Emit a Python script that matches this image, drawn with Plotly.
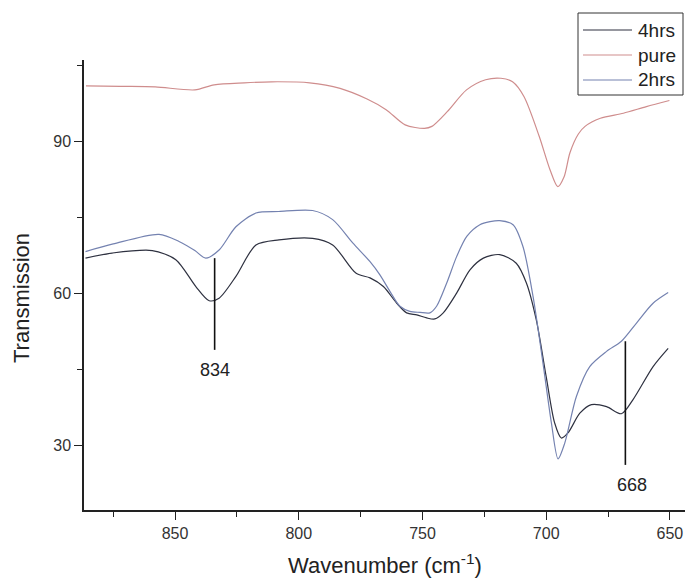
import plotly.graph_objects as go

# Wavenumber grid (cm^-1) and transmission traces for each sample
wn_pure = [886.0, 872.0, 858.0, 842.0, 834.2, 822.0, 811.0, 795.6, 783.3, 772.4,
           764.7, 757.0, 749.2, 746.2, 740.0, 732.2, 724.5, 718.3, 713.6, 709.0,
           702.8, 698.5, 695.3, 692.8, 690.4, 687.0, 684.3, 678.1, 668.8, 659.5,
           650.2]
t_pure = [101.0, 100.9, 100.8, 100.2, 101.2, 101.6, 101.8, 101.6, 100.5, 98.4,
          96.3, 93.3, 92.6, 93.0, 95.9, 100.2, 102.2, 102.5, 101.8, 98.9,
          91.0, 84.5, 81.1, 83.0, 87.8, 91.5, 93.0, 94.6, 95.6, 96.9,
          98.1]

wn_4h = [886.2, 875.4, 859.2, 849.7, 841.6, 836.2, 832.2, 825.4, 817.3, 808.0,
         794.4, 786.3, 776.8, 771.2, 765.8, 760.4, 756.4, 752.3, 748.3, 745.0,
         741.6, 736.2, 730.8, 725.4, 718.8, 712.1, 708.0, 704.0, 700.0, 696.6,
         693.9, 691.2, 686.4, 681.7, 675.6, 669.6, 664.9, 656.8, 650.7]
t_4h = [67.0, 68.0, 68.5, 66.7, 61.4, 58.6, 59.1, 63.4, 69.6, 70.6,
        70.9, 69.6, 64.0, 63.1, 61.4, 58.1, 56.2, 55.8, 55.2, 55.0,
        56.2, 60.1, 64.7, 67.0, 67.7, 66.0, 62.1, 54.8, 43.6, 34.5,
        31.5, 32.5, 36.4, 38.1, 37.7, 36.3, 39.1, 45.6, 49.2]

wn_2h = [886.2, 875.0, 856.5, 848.4, 842.0, 837.6, 832.2, 825.4, 817.3, 808.0,
         794.4, 786.3, 778.2, 771.2, 767.2, 763.1, 759.1, 755.1, 751.0, 747.0,
         744.3, 740.2, 736.2, 732.1, 726.8, 722.7, 718.8, 713.4, 709.4, 705.3,
         701.3, 697.9, 695.2, 692.5, 687.8, 682.4, 675.6, 669.6, 663.5, 656.8,
         650.7]
t_2h = [68.3, 69.8, 71.7, 70.3, 68.5, 67.0, 68.6, 73.2, 75.9, 76.2,
        76.4, 74.6, 70.0, 66.3, 63.7, 60.4, 57.5, 56.5, 56.3, 56.2,
        57.5, 62.1, 67.3, 71.3, 73.6, 74.2, 74.4, 73.6, 69.3, 59.4,
        46.3, 34.5, 27.4, 30.5, 39.7, 45.6, 48.6, 50.6, 54.2, 58.1,
        60.2]

# Marked peaks: position, top and bottom of the marker line, label height
peak_pos = [834, 668]
peak_top = [67.0, 50.6]
peak_bottom = [48.9, 26.2]
peak_label_y = [45.0, 22.3]
peak_label_shift = [0, 7]

FONT = "Liberation Sans, Arial, sans-serif"

# plot area in pixels (left, right, top, bottom) for paper-coordinate helpers
L, R, T, B = 84, 685, 60, 510


def px_x(px):
    return (px - L) / (R - L)


def px_y(py):
    return (B - py) / (B - T)


fig = go.Figure()
series = [
    ("4hrs", wn_4h, t_4h, "#2e3140"),
    ("pure", wn_pure, t_pure, "#cf8d8d"),
    ("2hrs", wn_2h, t_2h, "#7482b0"),
]
for name, xs, ys, color in series:
    fig.add_trace(go.Scatter(
        x=xs, y=ys, name=name, mode="lines", showlegend=False,
        line=dict(color=color, width=1.2, shape="spline", smoothing=0.8),
    ))

for pos, top, bot, ly, sh in zip(peak_pos, peak_top, peak_bottom, peak_label_y, peak_label_shift):
    fig.add_shape(type="line", x0=pos, x1=pos, y0=bot, y1=top,
                  line=dict(color="#111111", width=1.6))
    fig.add_annotation(x=pos, y=ly, text=str(pos), showarrow=False,
                       xshift=sh, font=dict(size=18, color="#222222", family=FONT))

# legend box drawn in the top-right corner
fig.add_shape(type="rect", xref="paper", yref="paper",
              x0=px_x(578), x1=px_x(683), y0=px_y(95), y1=px_y(13),
              line=dict(color="#333333", width=1), fillcolor="white", layer="above")
for i, (name, _, _, color) in enumerate(series):
    row_y = 30 + 25 * i
    fig.add_shape(type="line", xref="paper", yref="paper",
                  x0=px_x(583), x1=px_x(632), y0=px_y(row_y), y1=px_y(row_y),
                  line=dict(color=color, width=1.2), layer="above")
    fig.add_annotation(xref="paper", yref="paper", x=px_x(636), y=px_y(row_y),
                       xanchor="left", yanchor="middle", text=name, showarrow=False,
                       font=dict(size=19, color="#222222", family=FONT))

# axis titles
fig.add_annotation(xref="paper", yref="paper", x=0.5, y=px_y(564),
                   xanchor="center", yanchor="middle", showarrow=False,
                   text="Wavenumber (cm<sup>-1</sup>)",
                   font=dict(size=22, color="#222222", family=FONT))
fig.add_annotation(xref="paper", yref="paper", x=px_x(21), y=px_y(298),
                   xanchor="center", yanchor="middle", showarrow=False,
                   text="Transmission", textangle=-90,
                   font=dict(size=22, color="#222222", family=FONT))

axis_common = dict(
    showline=True, linecolor="#222222", linewidth=1.5,
    ticks="outside", ticklen=8, tickwidth=1.3, tickcolor="#222222",
    showgrid=False, zeroline=False, mirror=False,
    tickfont=dict(size=16, color="#333333", family=FONT),
)

fig.update_layout(
    width=685, height=584,
    margin=dict(l=L, r=685 - R, t=T, b=584 - B),
    paper_bgcolor="white", plot_bgcolor="white",
    font=dict(family=FONT, color="#222222"),
    showlegend=False,
    xaxis=dict(
        range=[886.8, 643.9], tick0=0, dtick=50,
        minor=dict(ticks="outside", ticklen=5, dtick=25, tickcolor="#222222"),
        **axis_common,
    ),
    yaxis=dict(
        range=[17.3, 106.1], tick0=0, dtick=30,
        minor=dict(ticks="outside", ticklen=5, dtick=15, tickcolor="#222222"),
        **axis_common,
    ),
)

fig.write_html("out.html")
